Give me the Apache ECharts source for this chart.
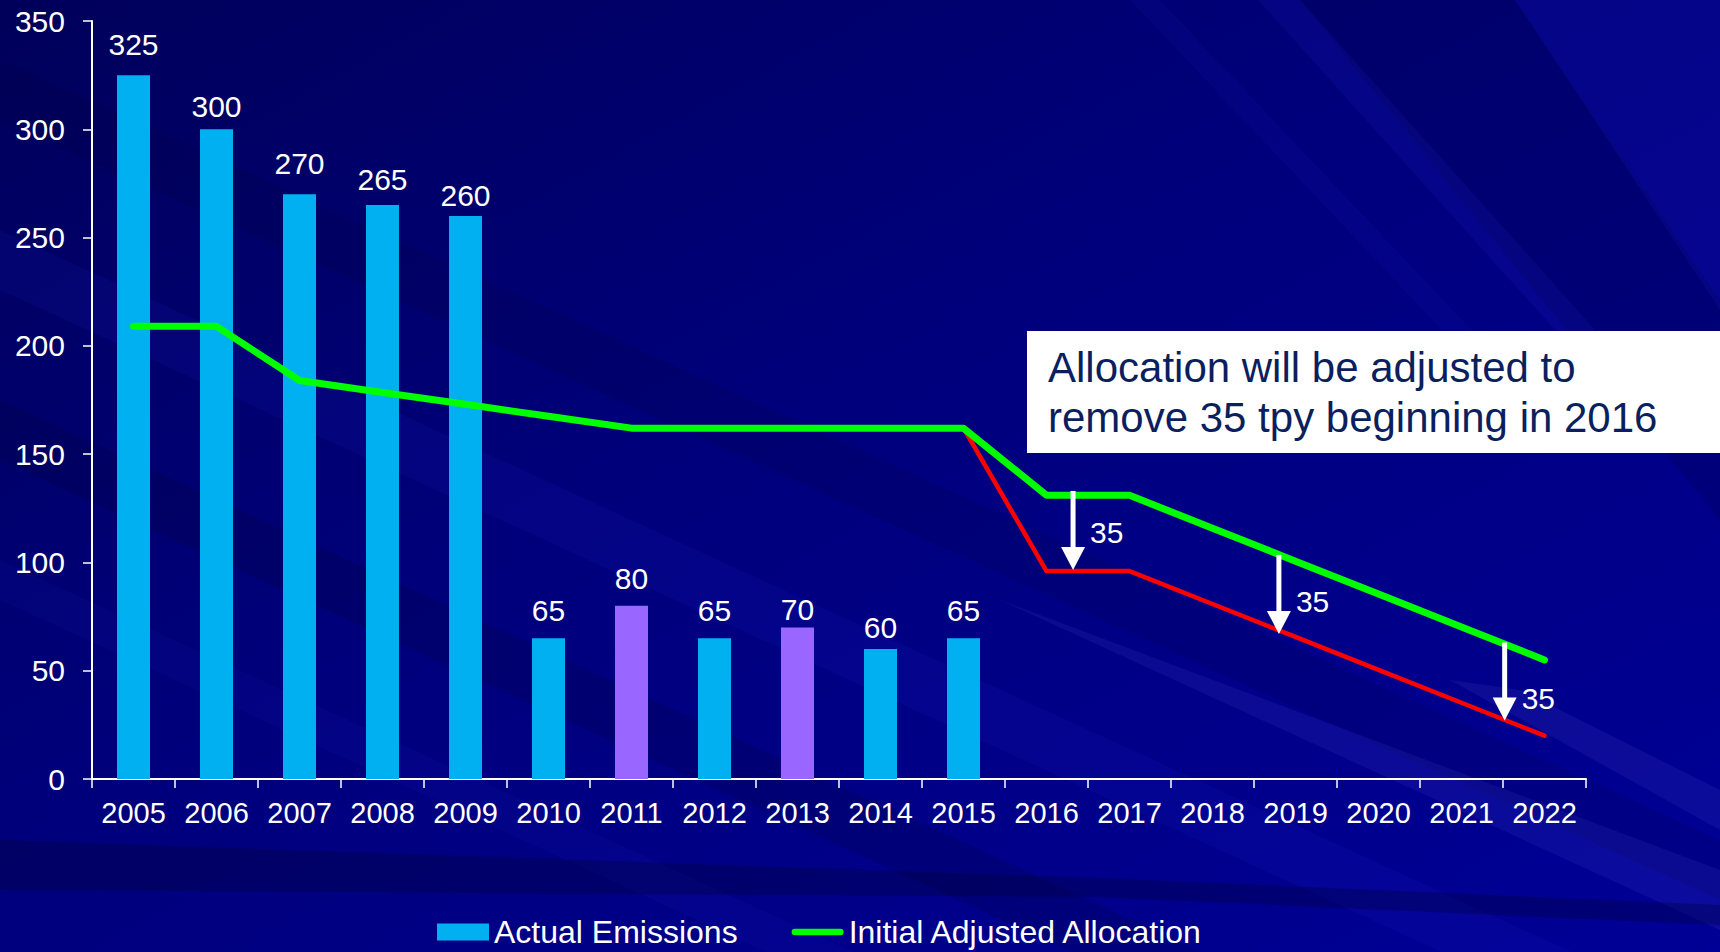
<!DOCTYPE html>
<html>
<head>
<meta charset="utf-8">
<script src="https://cdn.jsdelivr.net/npm/echarts@6/dist/echarts.min.js"></script>
<style>
html,body{margin:0;padding:0;background:#000080;overflow:hidden;}
#chart{width:1720px;height:952px;}
</style>
</head>
<body>
<div id="chart"></div>
<script>
// ---------------- data ----------------
const years = ['2005','2006','2007','2008','2009','2010','2011','2012','2013','2014','2015','2016','2017','2018','2019','2020','2021','2022'];
const actualEmissions = [325,300,270,265,260,65,80,65,70,60,65,null,null,null,null,null,null,null];
const initialAllocation = [209,209,184,178.5,173,167.5,162,162,162,162,162,131,131,115.8,100.6,85.4,70.2,55];
const adjustedAllocation = [null,null,null,null,null,null,null,null,null,null,162,96,96,80.8,65.6,50.4,35.2,20];
const highlightYears = ['2011','2013'];
// reduction arrows: position (in category units), from value, to value, label value, amount
const arrowPos = [11.32, 13.8, 16.52];
const arrowFrom = [133, 103.5, 63];
const arrowTo = [96.5, 67, 27];
const arrowLabelAt = [114, 82, 37];
const arrowAmount = [35, 35, 35];
const yMin = 0, yMax = 350, yStep = 50;
const noteLines = ['Allocation will be adjusted to', 'remove 35 tpy beginning in 2016'];
const legendNames = ['Actual Emissions', 'Initial Adjusted Allocation'];

// ---------------- styling ----------------
const FONT = '"Liberation Sans", Arial, Helvetica, sans-serif';
const labelDistances = [16, 8, 16, 11, 5, 13, 12, 13, 3, 7, 13]; // px gap of each value label above its bar

const chart = echarts.init(document.getElementById('chart'), null, {renderer: 'svg', width: 1720, height: 952});

const barData = actualEmissions.map((v, i) => ({
  value: v,
  itemStyle: {color: highlightYears.indexOf(years[i]) >= 0 ? '#9966FF' : '#00B0F0'},
  label: {distance: labelDistances[i] !== undefined ? labelDistances[i] : 10}
}));
const arrowData = arrowPos.map((x, i) => [x, arrowFrom[i], arrowTo[i], arrowLabelAt[i], arrowAmount[i]]);

const bg = [
  {type: 'rect', shape: {x: 0, y: 0, width: 1720, height: 952}, style: {fill: new echarts.graphic.LinearGradient(0, 0, 1, 1, [
    {offset: 0, color: '#00005A'}, {offset: 0.45, color: '#00007C'}, {offset: 1, color: '#000096'}])}},
  {type: 'polygon', shape: {points: [[0, 230], [0, 290], [1720, 1080], [1720, 1020]]}, style: {fill: 'rgba(40,40,230,0.09)'}},
  {type: 'polygon', shape: {points: [[0, 400], [0, 460], [1720, 1250], [1720, 1190]]}, style: {fill: 'rgba(0,0,40,0.16)'}},
  {type: 'polygon', shape: {points: [[0, 560], [0, 600], [1720, 1390], [1720, 1350]]}, style: {fill: 'rgba(40,40,230,0.07)'}},
  {type: 'polygon', shape: {points: [[0, 60], [0, 120], [1720, 900], [1720, 840]]}, style: {fill: 'rgba(0,0,40,0.12)'}},
  {type: 'polygon', shape: {points: [[1000, 600], [1720, 870], [1720, 930]]}, style: {fill: 'rgba(90,90,230,0.12)'}},
  {type: 'polygon', shape: {points: [[1450, 680], [1520, 690], [1720, 790], [1720, 830]]}, style: {fill: 'rgba(120,120,240,0.10)'}},
  {type: 'polygon', shape: {points: [[0, 840], [1100, 878], [1720, 905], [1720, 925], [1100, 897], [0, 890]]}, style: {fill: 'rgba(0,0,50,0.30)'}},
  {type: 'polygon', shape: {points: [[1300, 0], [1515, 0], [1720, 300], [1720, 520]]}, style: {fill: 'rgba(0,0,50,0.18)'}},
  {type: 'polygon', shape: {points: [[1258, 0], [1300, 0], [1640, 380], [1600, 380]]}, style: {fill: 'rgba(40,40,220,0.12)'}},
  {type: 'polygon', shape: {points: [[1515, 0], [1720, 0], [1720, 310]]}, style: {fill: 'rgba(40,40,220,0.12)'}},
  {type: 'polygon', shape: {points: [[1130, 0], [1160, 0], [1500, 360], [1470, 360]]}, style: {fill: 'rgba(40,40,220,0.08)'}}
].map(e => Object.assign(e, {z: -100, silent: true}));

const option = {
  animation: false,
  textStyle: {fontFamily: FONT},
  grid: {left: 92, right: 134, top: 21, bottom: 173, containLabel: false, outerBoundsMode: 'none'},
  graphic: {elements: bg.concat([
    {type: 'rect', z: 100, shape: {x: 1027, y: 331, width: 693, height: 122}, style: {fill: '#FFFFFF'}},
    {type: 'text', z: 101, x: 1048, y: 367, style: {text: noteLines[0], font: '42px ' + FONT, fill: '#0B1F5E', verticalAlign: 'middle'}},
    {type: 'text', z: 101, x: 1048, y: 417, style: {text: noteLines[1], font: '42px ' + FONT, fill: '#0B1F5E', verticalAlign: 'middle'}}
  ])},
  legend: {
    data: [
      {name: legendNames[0], icon: 'rect'},
      {name: legendNames[1], icon: 'path://M3.5,0 L53.5,0 A3.5,3.5 0 0 1 53.5,7 L3.5,7 A3.5,3.5 0 0 1 3.5,0 Z', itemStyle: {color: '#00FF00'}}
    ],
    left: 437, top: 916, padding: 0,
    itemWidth: 52, itemHeight: 17, itemGap: 54,
    textStyle: {color: '#FFFFFF', fontSize: 32, fontFamily: FONT}
  },
  xAxis: [
    {
      type: 'category', data: years, boundaryGap: true,
      axisLine: {onZero: false, lineStyle: {color: '#FFFFFF', width: 2}},
      axisTick: {show: true, length: 9, lineStyle: {color: '#FFFFFF', width: 1.5}},
      axisLabel: {color: '#FFFFFF', fontSize: 29, margin: 19, interval: 0, fontFamily: FONT},
      splitLine: {show: false}
    },
    {type: 'value', min: -0.5, max: 17.5, show: false}
  ],
  yAxis: {
    type: 'value', min: yMin, max: yMax, interval: yStep,
    axisLine: {show: true, onZero: false, lineStyle: {color: '#FFFFFF', width: 2}},
    axisTick: {show: true, length: 9, lineStyle: {color: '#FFFFFF', width: 1.5}},
    axisLabel: {color: '#FFFFFF', fontSize: 30, margin: 27, fontFamily: FONT},
    splitLine: {show: false}
  },
  series: [
    {
      name: legendNames[0], type: 'bar', data: barData, barWidth: 33,
      itemStyle: {color: '#00B0F0'},
      label: {show: true, position: 'top', distance: 10, color: '#FFFFFF', fontSize: 30, fontFamily: FONT},
      z: 2
    },
    {
      name: legendNames[1], type: 'line', data: initialAllocation, symbol: 'none',
      itemStyle: {color: '#00FF00'},
      lineStyle: {color: '#00FF00', width: 7, cap: 'round', join: 'round'},
      z: 4
    },
    {
      name: 'Adjusted Allocation', type: 'line', data: adjustedAllocation, symbol: 'none',
      itemStyle: {color: '#FF0000'},
      lineStyle: {color: '#FF0000', width: 4.5, cap: 'round', join: 'round'},
      z: 3
    },
    {
      name: 'Reduction', type: 'custom', xAxisIndex: 1, data: arrowData, z: 6,
      renderItem: function (params, api) {
        const top = api.coord([api.value(0), api.value(1)]);
        const tip = api.coord([api.value(0), api.value(2)]);
        const lab = api.coord([api.value(0), api.value(3)]);
        const headLen = 23, headW = 12;
        return {
          type: 'group', children: [
            {type: 'line', shape: {x1: top[0], y1: top[1], x2: tip[0], y2: tip[1] - headLen + 2}, style: {stroke: '#FFFFFF', lineWidth: 5}},
            {type: 'polygon', shape: {points: [[tip[0] - headW, tip[1] - headLen], [tip[0] + headW, tip[1] - headLen], [tip[0], tip[1]]]}, style: {fill: '#FFFFFF'}},
            {type: 'text', x: tip[0] + 17, y: lab[1], style: {text: String(api.value(4)), fill: '#FFFFFF', font: '30px ' + FONT, verticalAlign: 'middle'}}
          ]
        };
      }
    }
  ]
};
chart.setOption(option);
</script>
</body>
</html>
